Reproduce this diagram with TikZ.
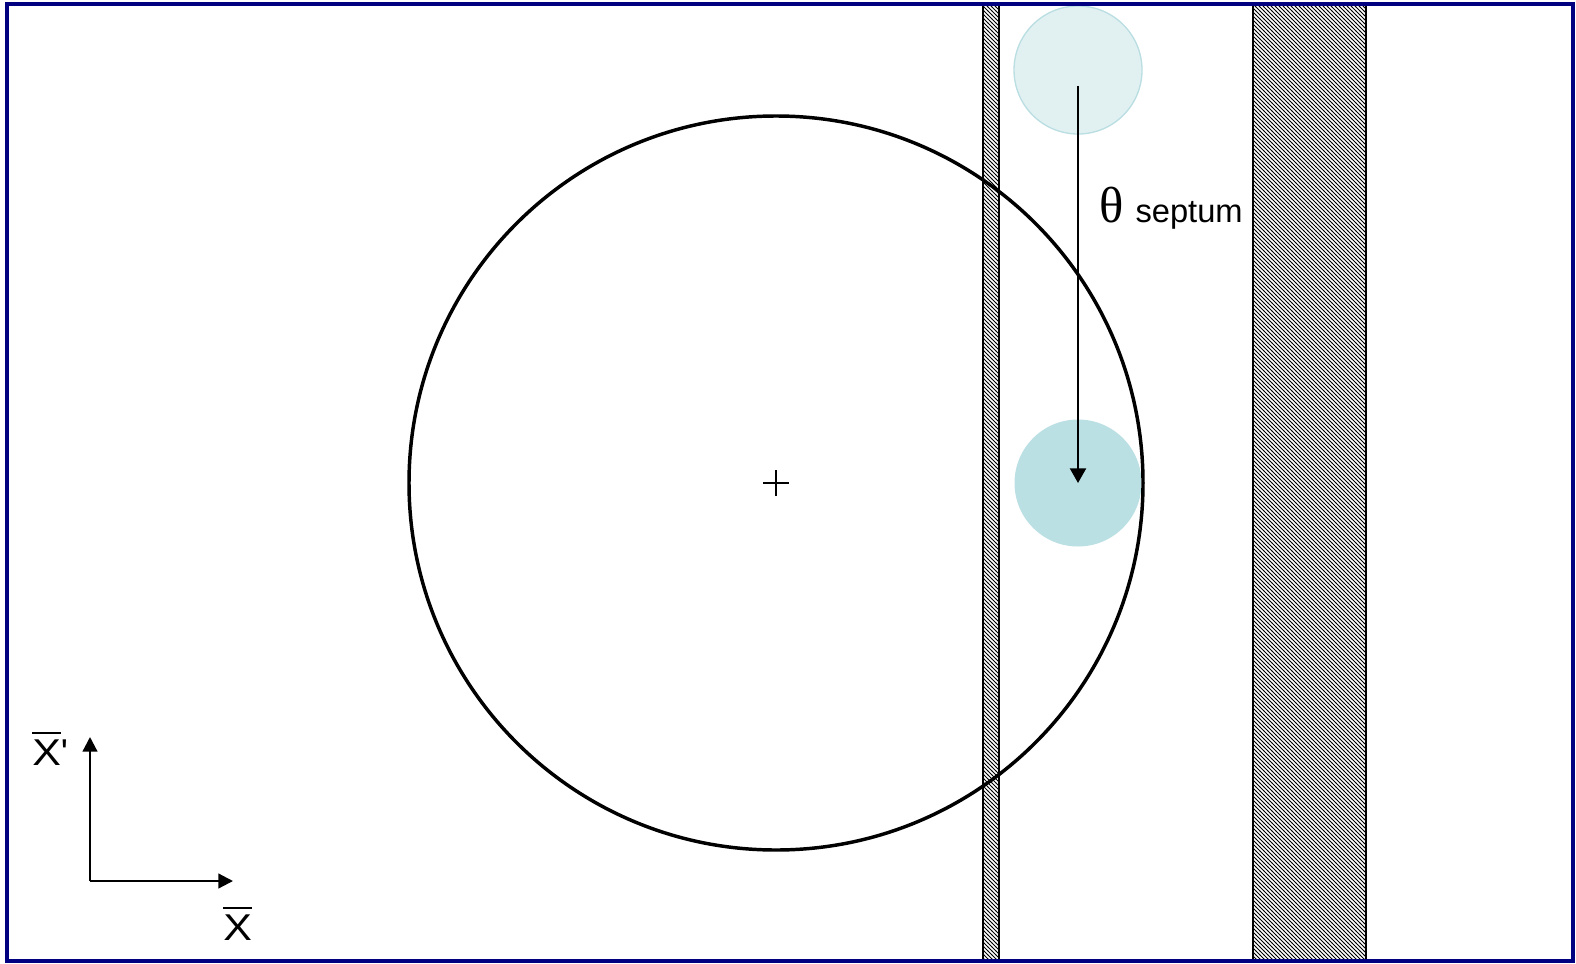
\documentclass[tikz,border=0pt]{standalone}
\usepackage{fontspec}
\setmainfont{Liberation Sans}
\newfontfamily\thetafont{Liberation Serif}
\usetikzlibrary{patterns,arrows.meta}
\definecolor{framecol}{RGB}{0,0,128}
\definecolor{beamlight}{RGB}{225,241,242}
\definecolor{beamlightedge}{RGB}{186,222,226}
\definecolor{beamdark}{RGB}{187,224,228}
\pgfdeclarepatternformonly{septumhatch}{\pgfqpoint{-1pt}{-1pt}}{\pgfqpoint{4pt}{4pt}}{\pgfqpoint{3pt}{3pt}}{%
  \pgfsetlinewidth{0.7pt}%
  \pgfpathmoveto{\pgfqpoint{-0.1pt}{3.1pt}}%
  \pgfpathlineto{\pgfqpoint{3.1pt}{-0.1pt}}%
  \pgfusepath{stroke}}
\newcommand\barred[1]{\vbox{\hrule height 1.6pt\kern 4.5pt\hbox{#1}}}
\begin{document}
\begin{tikzpicture}[x=0.75pt,y=-0.75pt,
  septumbar/.style={pattern=septumhatch,draw=black,line width=1.3pt},
  beamA/.style={circle,minimum size=128*0.75pt,inner sep=0pt,fill=beamlight,draw=beamlightedge,line width=1pt},
  beamB/.style={circle,minimum size=127*0.75pt,inner sep=0pt,fill=beamdark},
  acc/.style={circle,minimum size=734*0.75pt,inner sep=0pt,draw=black,line width=2.6pt},
  arr/.style={line width=1.6pt,-{Triangle[length=11pt,width=12pt]}},
  axarr/.style={line width=1.7pt,-{Triangle[length=11pt,width=11pt]}},
  lbl/.style={inner sep=0pt,font=\fontsize{28pt}{32pt}\selectfont}]
\useasboundingbox (0,0) rectangle (1576,963);
\fill[white] (0,0) rectangle (1576,963);
% septa
\path[septumbar] (983,5) rectangle (999,962);
\path[septumbar] (1253,5) rectangle (1366,962);
% beams
\node[beamA] (inj) at (1078,70) {};
\node[beamB] (beam) at (1078,483) {};
% acceptance circle
\node[acc] (acc) at (776,483) {};
\coordinate (c) at (776,483);
\draw[line width=1pt] ([xshift=-13*0.75pt]c) -- ([xshift=13*0.75pt]c);
\draw[line width=1pt] ([yshift=-13*0.75pt]c) -- ([yshift=13*0.75pt]c);
% kick arrow
\coordinate (kickstart) at (1078,86);
\draw[arr] (kickstart) -- (beam.center);
\node[inner sep=0pt,anchor=base west] (theta) at (1099,222)
  {{\thetafont\fontsize{38pt}{40pt}\selectfont θ}\hspace{9pt}{\fontsize{24.5pt}{28pt}\selectfont septum}};
% axes
\coordinate (o) at (90,881);
\coordinate (xe) at (233,881);
\coordinate (ye) at (90,737);
\draw[axarr] (o) -- (xe);
\draw[axarr] (o) -- (ye);
\node[lbl,anchor=south west] (xplab) at (32,766) {\barred{\scalebox{1.15}[1]{X}}\textquotesingle};
\node[lbl,anchor=south west] (xlab) at (223,941) {\barred{\scalebox{1.15}[1]{X}}};
% frame
\draw[framecol,line width=3pt] (7,4) rectangle (1573,961);
\end{tikzpicture}
\end{document}
